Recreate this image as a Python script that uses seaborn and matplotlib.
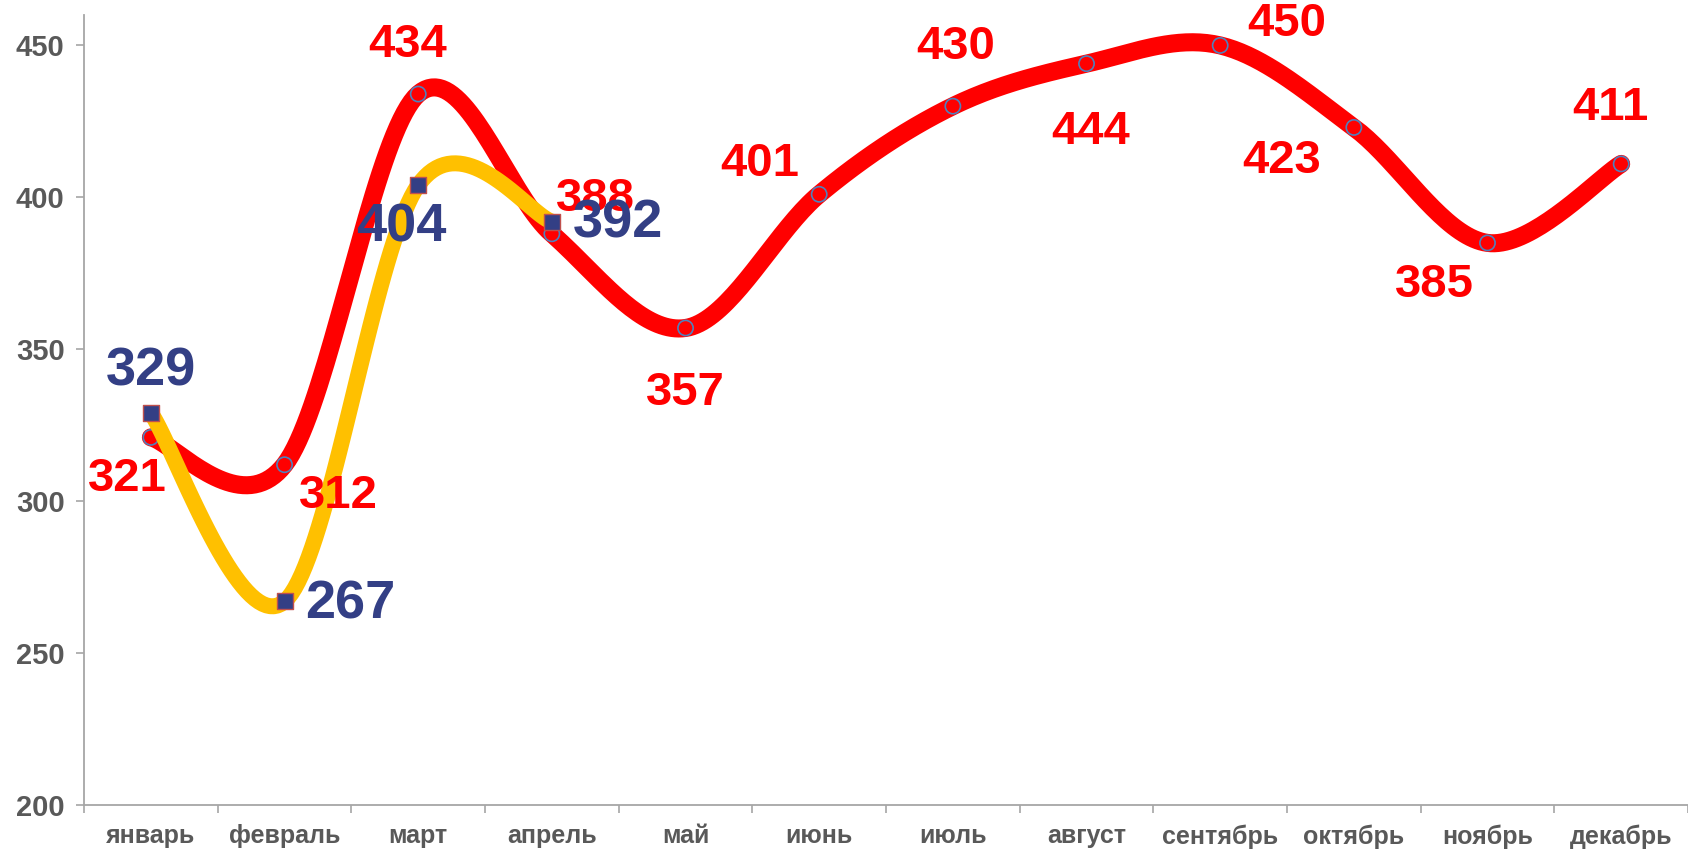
import numpy as np
import pandas as pd
import matplotlib
matplotlib.use("Agg")
import matplotlib.pyplot as plt
import seaborn as sns

sns.set_theme(style="white")
plt.rcParams['font.family'] = ['Liberation Sans', 'DejaVu Sans']

# data
months = ["январь", "февраль", "март", "апрель", "май", "июнь",
          "июль", "август", "сентябрь", "октябрь", "ноябрь", "декабрь"]
red_values = [321, 312, 434, 388, 357, 401, 430, 444, 450, 423, 385, 411]
yellow_values = [329, 267, 404, 392]

# label offsets in pixels (dx, dy, y up)
red_offsets = [(-23, -42), (54, -31), (-11, 49), (44, 35), (0, -65), (-59, 30),
               (3, 59), (4, -68), (67, 21), (-72, -34), (-53, -42), (-11, 56)]
yellow_offsets = [(0, 42), (66, -3), (-17, -42), (66, -2)]

RED = "#FF0000"
YELLOW = "#FFC000"
NAVY = "#333F85"
GREY = "#595959"


def smooth(xs, ys, n=40):
    # Excel-like smoothing: cubic bezier with Catmull-Rom control points
    p = np.column_stack([xs, ys]).astype(float)
    ext = np.vstack([p[0], p, p[-1]])
    out = []
    for i in range(len(p) - 1):
        p0, p1, p2, p3 = ext[i], ext[i + 1], ext[i + 2], ext[i + 3]
        c1 = p1 + (p2 - p0) / 6
        c2 = p2 - (p3 - p1) / 6
        t = np.linspace(0, 1, n)[:, None]
        seg = ((1 - t) ** 3) * p1 + 3 * ((1 - t) ** 2) * t * c1 + 3 * (1 - t) * t ** 2 * c2 + t ** 3 * p2
        out.append(seg if i == 0 else seg[1:])
    out = np.vstack(out)
    return out[:, 0], out[:, 1]


red_df = pd.DataFrame({"x": np.arange(len(months)), "y": red_values})
yel_df = pd.DataFrame({"x": np.arange(len(yellow_values)), "y": yellow_values})

fig = plt.figure(figsize=(16.88, 8.49), dpi=100)
ax = fig.add_axes([0.0498, 0.0518, 0.9502, 0.9305])

sx, sy = smooth(red_df["x"], red_df["y"])
ax.plot(sx, sy, color=RED, lw=13, solid_capstyle="round", zorder=2)
sns.scatterplot(data=red_df, x="x", y="y", ax=ax, marker="o", s=120,
                facecolor="none", edgecolor="#4F81BD", linewidth=1.2, zorder=3)

sx, sy = smooth(yel_df["x"], yel_df["y"])
ax.plot(sx, sy, color=YELLOW, lw=11.5, solid_capstyle="round", zorder=4)
sns.scatterplot(data=yel_df, x="x", y="y", ax=ax, marker="s", s=120,
                color=NAVY, edgecolor="#C0504D", linewidth=1, zorder=5)

for x, v, (dx, dy) in zip(red_df["x"], red_values, red_offsets):
    ax.annotate(str(v), (x, v), xytext=(dx, dy), textcoords="offset pixels",
                ha="center", va="center", fontsize=34, fontweight="bold",
                color=RED, zorder=6)
for x, v, (dx, dy) in zip(yel_df["x"], yellow_values, yellow_offsets):
    ax.annotate(str(v), (x, v), xytext=(dx, dy), textcoords="offset pixels",
                ha="center", va="center", fontsize=39, fontweight="bold",
                color=NAVY, zorder=6)

ax.set_xlim(-0.5, len(months) - 0.5)
ax.set_ylim(200, 460)
ax.set_yticks([200, 250, 300, 350, 400, 450])
ax.set_xticks(range(len(months)))
ax.set_xticklabels(months)
ax.set_xticks(np.arange(-0.5, len(months), 1), minor=True)
ax.set_xlabel("")
ax.set_ylabel("")

for side in ["top", "right"]:
    ax.spines[side].set_visible(False)
for side in ["left", "bottom"]:
    ax.spines[side].set_color("#A6A6A6")
    ax.spines[side].set_linewidth(1.3)

ax.tick_params(axis="x", which="major", length=0, pad=14, labelsize=18, labelcolor=GREY)
ax.tick_params(axis="x", which="minor", length=6, color="#A6A6A6", width=1.2, direction="out", bottom=True)
ax.tick_params(axis="y", length=6, color="#A6A6A6", width=1.2, direction="out", left=True,
               labelsize=21, labelcolor=GREY, pad=8)
for lab in ax.get_xticklabels() + ax.get_yticklabels():
    lab.set_fontweight("bold")

fig.savefig("out.png", dpi=100)
